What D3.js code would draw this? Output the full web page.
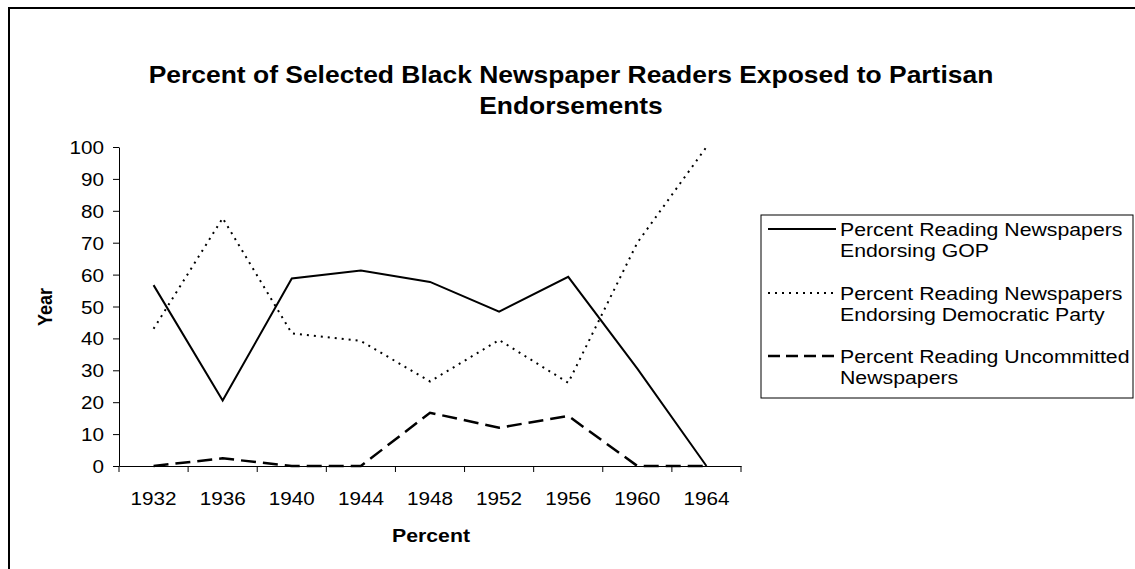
<!DOCTYPE html>
<html>
<head>
<meta charset="utf-8">
<script src="https://cdn.jsdelivr.net/npm/d3@7"></script>
<style>
  html, body { margin: 0; padding: 0; background: #fff; }
  svg { display: block; }
  text { font-family: "Liberation Sans", Arial, sans-serif; fill: #000; }
</style>
</head>
<body>
<svg id="chart" width="1135" height="569"></svg>
<script>
const years = ["1932", "1936", "1940", "1944", "1948", "1952", "1956", "1960", "1964"];
const gop = [56.7, 20.5, 58.8, 61.3, 57.7, 48.4, 59.3, 30.5, 0];
const dem = [43, 77.7, 41.6, 39.2, 26.5, 39.5, 26.1, 70, 100];
const uncommitted = [0, 2.4, 0, 0, 16.7, 12.0, 15.7, 0, 0];
const yTicks = [0, 10, 20, 30, 40, 50, 60, 70, 80, 90, 100];
const titleLines = ["Percent of Selected Black Newspaper Readers Exposed to Partisan", "Endorsements"];
const seriesNames = [
  ["Percent Reading Newspapers", "Endorsing GOP"],
  ["Percent Reading Newspapers", "Endorsing Democratic Party"],
  ["Percent Reading Uncommitted", "Newspapers"]
];

const SX = 1.15; // horizontal stretch of the reference's text

const series = [
  { values: gop, dash: null, width: 2, legendDash: null },
  { values: dem, dash: "2,5", width: 2, legendDash: "2,5" },
  { values: uncommitted, dash: "15,7", width: 2.5, legendDash: "12,6" }
];

const svg = d3.select("#chart");

// helper: stretched text
function sText(parent, x, y, str, size, weight, anchor) {
  return parent.append("text")
    .attr("transform", `translate(${x},${y}) scale(${SX},1)`)
    .attr("text-anchor", anchor || "start")
    .style("font-size", size + "px")
    .style("font-weight", weight || "normal")
    .text(str);
}

// outer frame
svg.append("rect")
  .attr("x", 9).attr("y", 8).attr("width", 1140).attr("height", 600)
  .attr("fill", "none").attr("stroke", "#000").attr("stroke-width", 2);

// title
titleLines.forEach((t, i) => sText(svg, 571, 83 + i * 31, t, 23, "bold", "middle"));

const x = d3.scaleBand().domain(years).range([119, 741]).padding(0);
const y = d3.scaleLinear().domain([0, 100]).range([466, 147]);

// y axis
const yAxis = svg.append("g").attr("transform", "translate(119,0)")
  .call(d3.axisLeft(y).tickValues(yTicks).tickSize(6).tickSizeOuter(0).tickPadding(0));
yAxis.select(".domain").attr("stroke", "#000").attr("stroke-width", 1);
yAxis.selectAll(".tick line").attr("stroke", "#000");
yAxis.selectAll(".tick text")
  .attr("x", null).attr("dy", null)
  .attr("transform", `translate(-15,6.5) scale(${SX},1)`)
  .style("font-size", "18px").style("font-family", "Liberation Sans, Arial, sans-serif");

// x axis
const xAxis = svg.append("g").attr("transform", "translate(0,466)")
  .call(d3.axisBottom(x).tickSize(0).tickPadding(0));
xAxis.select(".domain").attr("stroke", "#000").attr("stroke-width", 1);
xAxis.selectAll(".tick text")
  .attr("y", null).attr("dy", null)
  .attr("transform", `translate(0,39) scale(${SX},1)`)
  .style("font-size", "18px").style("font-family", "Liberation Sans, Arial, sans-serif");
// tick marks at category boundaries
const bounds = years.map(d => x(d)).concat([x.range()[1]]);
svg.append("g").selectAll("line").data(bounds).join("line")
  .attr("x1", d => d).attr("x2", d => d)
  .attr("y1", 466).attr("y2", 472)
  .attr("stroke", "#000").attr("stroke-width", 1);

// axis titles
svg.append("text")
  .attr("transform", "translate(52,307) rotate(-90) scale(1,1.15)")
  .attr("text-anchor", "middle")
  .style("font-size", "18px").style("font-weight", "bold")
  .text("Year");
sText(svg, 431, 542, "Percent", 18.5, "bold", "middle");

// lines
const line = d3.line()
  .x((d, i) => x(years[i]) + x.bandwidth() / 2)
  .y(d => y(d));
svg.append("g").selectAll("path").data(series).join("path")
  .attr("d", d => line(d.values))
  .attr("fill", "none")
  .attr("stroke", "#000")
  .attr("stroke-width", d => d.width)
  .attr("stroke-dasharray", d => d.dash);

// legend
const lg = svg.append("g");
lg.append("rect")
  .attr("x", 761).attr("y", 215).attr("width", 372).attr("height", 183)
  .attr("fill", "#fff").attr("stroke", "#000").attr("stroke-width", 1);
const rowY = [229, 293, 356];
series.forEach((s, i) => {
  lg.append("line")
    .attr("x1", 768).attr("x2", 836)
    .attr("y1", rowY[i]).attr("y2", rowY[i])
    .attr("stroke", "#000")
    .attr("stroke-width", s.width)
    .attr("stroke-dasharray", s.legendDash);
  seriesNames[i].forEach((t, j) => sText(lg, 840, rowY[i] + 6.5 + j * 21, t, 18.5, "normal", "start"));
});
</script>
</body>
</html>
